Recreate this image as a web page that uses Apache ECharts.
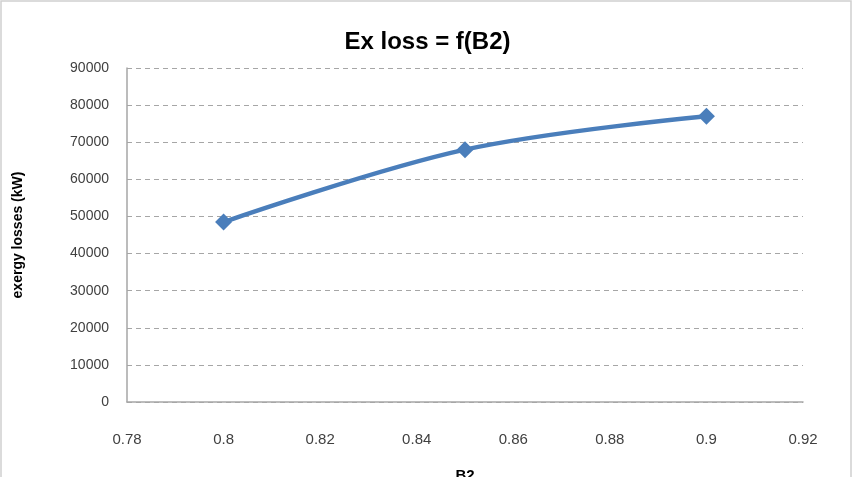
<!DOCTYPE html>
<html>
<head>
<meta charset="utf-8">
<script src="https://cdn.jsdelivr.net/npm/echarts@6/dist/echarts.min.js"></script>
<style>
  html, body { margin: 0; padding: 0; background: #fff; }
  #chart { width: 855px; height: 477px; }
</style>
</head>
<body>
<div id="chart"></div>
<script>
// values
const b2Values = [0.8, 0.85, 0.9]
const exLosses = [48500, 68000, 77000]

const font = "'Liberation Sans Narrow', 'Liberation Sans', sans-serif"

const chart = echarts.init(document.getElementById('chart'))

chart.setOption({
    animation: false,
    title: {
        text: 'Ex loss = f(B2)',
        left: 'center',
        top: 25,
        textStyle: { fontFamily: font, fontSize: 24, fontWeight: 'bold', color: '#000' }
    },
    graphic: [{
        type: 'rect',
        shape: { x: 1, y: 1, width: 850, height: 480 },
        style: { fill: 'none', stroke: '#d0d0d0', lineWidth: 1.5 },
        silent: true
    }],
    grid: { left: 127, right: 52, top: 68, bottom: 75, outerBoundsMode: 'none' },
    xAxis: {
        type: 'value',
        min: 0.78,
        max: 0.92,
        interval: 0.02,
        name: 'B2',
        nameLocation: 'middle',
        nameGap: 66,
        nameTextStyle: { fontFamily: font, fontSize: 15, fontWeight: 'bold', color: '#000' },
        axisLine: { show: true, lineStyle: { color: '#a6a6a6', width: 1.5 } },
        axisTick: { show: false },
        splitLine: { show: false },
        axisLabel: {
            margin: 30,
            fontFamily: font, fontSize: 15, color: '#404040',
            formatter: v => String(+v.toFixed(2))
        }
    },
    yAxis: {
        type: 'value',
        min: 0,
        max: 90000,
        interval: 10000,
        name: 'exergy losses (kW)',
        nameLocation: 'middle',
        nameGap: 102,
        nameTextStyle: { fontFamily: font, fontSize: 14, fontWeight: 'bold', color: '#000' },
        axisLine: { show: true, lineStyle: { color: '#a6a6a6', width: 1.5 } },
        axisTick: { show: false },
        splitLine: { show: true, lineStyle: { color: '#a6a6a6', type: [5, 4], width: 1.2 } },
        axisLabel: {
            margin: 18, fontFamily: font, fontSize: 14, color: '#404040',
            formatter: v => String(v)
        }
    },
    series: [{
        type: 'line',
        data: b2Values.map((x, i) => [x, exLosses[i]]),
        smooth: 0.35,
        symbol: 'diamond',
        symbolSize: 17,
        lineStyle: { color: '#4a7ebb', width: 4.5 },
        itemStyle: { color: '#4a7ebb' }
    }]
})
</script>
</body>
</html>
